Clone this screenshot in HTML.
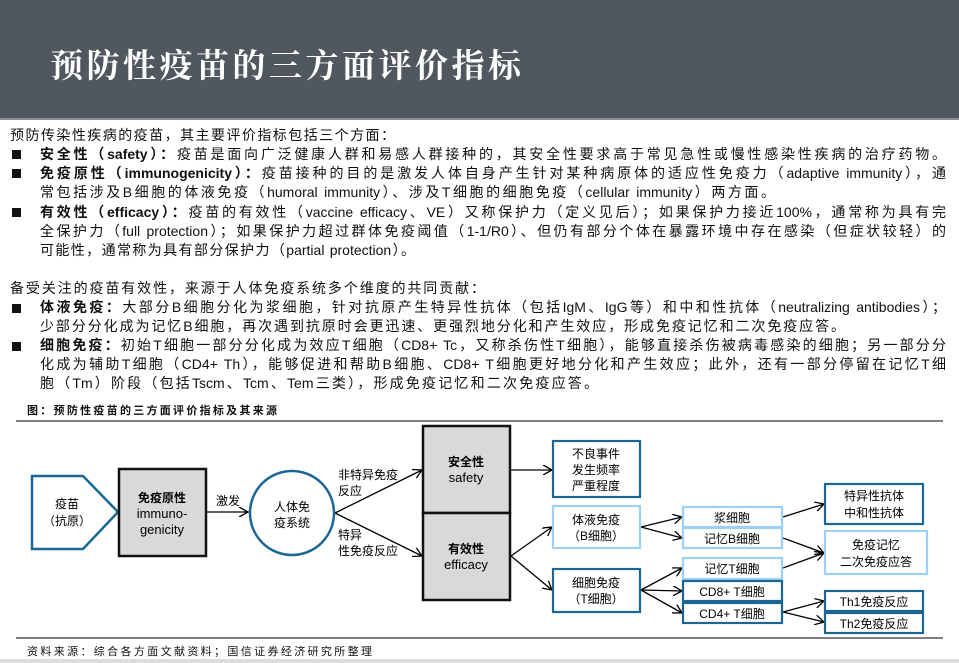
<!DOCTYPE html>
<html><head><meta charset="utf-8"><style>
body{margin:0;width:959px;height:663px;overflow:hidden;background:#fff;font-family:"Liberation Sans","Noto Sans CJK SC",sans-serif;color:#111;position:relative}
.hdr{position:absolute;left:0;top:0;width:959px;height:118px;background:#50575e;border-bottom:2px solid #8a9096}
.hdr div{position:absolute;left:50px;top:40px;font-size:33px;color:#fff;font-family:"Noto Serif CJK SC","Noto Sans CJK SC",serif;letter-spacing:3.5px;font-weight:bold}
.l{position:absolute;font-size:14px;line-height:19px;white-space:nowrap}
.j{text-align:justify;text-align-last:justify;white-space:normal;height:19px;overflow:hidden}
.sq{position:absolute;left:12px;width:9px;height:9px;background:#111}
b{font-weight:bold}
</style></head><body>
<div class="hdr"><div>预防性疫苗的三方面评价指标</div></div>
<div class="l j" style="left:10px;top:126px;width:385px">预防传染性疾病的疫苗，其主要评价指标包括三个方面：</div>
<div class="sq" style="top:150px"></div>
<div class="l j" style="left:40px;top:145px;width:906px"><b>安全性（safety）：</b>疫苗是面向广泛健康人群和易感人群接种的，其安全性要求高于常见急性或慢性感染性疾病的治疗药物。</div>
<div class="sq" style="top:169px"></div>
<div class="l j" style="left:40px;top:164px;width:906px"><b>免疫原性（immunogenicity）：</b>疫苗接种的目的是激发人体自身产生针对某种病原体的适应性免疫力（adaptive immunity），通</div>
<div class="l j" style="left:40px;top:183px;width:735px">常包括涉及B细胞的体液免疫（humoral immunity）、涉及T细胞的细胞免疫（cellular immunity）两方面。</div>
<div class="sq" style="top:208px"></div>
<div class="l j" style="left:40px;top:203px;width:906px"><b>有效性（efficacy）：</b>疫苗的有效性（vaccine efficacy、VE）又称保护力（定义见后）；如果保护力接近100%，通常称为具有完</div>
<div class="l j" style="left:40px;top:222px;width:906px">全保护力（full protection）；如果保护力超过群体免疫阈值（1-1/R0）、但仍有部分个体在暴露环境中存在感染（但症状较轻）的</div>
<div class="l j" style="left:40px;top:241px;width:375px">可能性，通常称为具有部分保护力（partial protection）。</div>
<div class="l j" style="left:10px;top:279px;width:475px">备受关注的疫苗有效性，来源于人体免疫系统多个维度的共同贡献：</div>
<div class="sq" style="top:304px"></div>
<div class="l j" style="left:40px;top:298px;width:906px"><b>体液免疫：</b>大部分B细胞分化为浆细胞，针对抗原产生特异性抗体（包括IgM、IgG等）和中和性抗体（neutralizing antibodies）；</div>
<div class="l j" style="left:40px;top:317px;width:805px">少部分分化成为记忆B细胞，再次遇到抗原时会更迅速、更强烈地分化和产生效应，形成免疫记忆和二次免疫应答。</div>
<div class="sq" style="top:342px"></div>
<div class="l j" style="left:40px;top:336px;width:906px"><b>细胞免疫：</b>初始T细胞一部分分化成为效应T细胞（CD8+ Tc，又称杀伤性T细胞），能够直接杀伤被病毒感染的细胞；另一部分分</div>
<div class="l j" style="left:40px;top:355px;width:906px">化成为辅助T细胞（CD4+ Th），能够促进和帮助B细胞、CD8+ T细胞更好地分化和产生效应；此外，还有一部分停留在记忆T细</div>
<div class="l j" style="left:40px;top:374px;width:558px">胞（Tm）阶段（包括Tscm、Tcm、Tem三类），形成免疫记忆和二次免疫应答。</div>
<div class="l j" style="left:27px;top:402px;font-size:11px;font-weight:bold;width:250px">图：预防性疫苗的三方面评价指标及其来源</div>
<div class="l j" style="left:27px;top:643px;font-size:11px;width:345px">资料来源：综合各方面文献资料；国信证券经济研究所整理</div>
<div style="position:absolute;left:0;top:659px;width:959px;height:4px;background:#ddd"></div>
<svg width="959" height="663" style="position:absolute;left:0;top:0" font-family="Liberation Sans,Noto Sans CJK SC,sans-serif" font-size="12" text-anchor="middle">
<defs><marker id="a" markerWidth="10" markerHeight="10" refX="9" refY="5" orient="auto" markerUnits="userSpaceOnUse"><path d="M0,0 L9,5 L0,10" fill="none" stroke="#000" stroke-width="1.3"/></marker></defs>
<line x1="16" y1="421" x2="943" y2="421" stroke="#333" stroke-width="1.2"/>
<line x1="16" y1="638" x2="943" y2="638" stroke="#333" stroke-width="1.2"/>
<g stroke="#000" stroke-width="1.3" marker-end="url(#a)">
<line x1="206" y1="512" x2="248" y2="512"/>
<line x1="335" y1="513" x2="422" y2="470"/>
<line x1="335" y1="513" x2="422" y2="556"/>
<line x1="511" y1="470" x2="552" y2="470"/>
<line x1="511" y1="556" x2="552" y2="527"/>
<line x1="511" y1="556" x2="552" y2="590"/>
<line x1="641" y1="527" x2="682" y2="517"/>
<line x1="641" y1="527" x2="682" y2="538"/>
<line x1="641" y1="590" x2="682" y2="568"/>
<line x1="641" y1="590" x2="682" y2="591"/>
<line x1="641" y1="590" x2="682" y2="613"/>
<line x1="783" y1="517" x2="824" y2="504"/>
<line x1="783" y1="538" x2="824" y2="553"/>
<line x1="783" y1="568" x2="824" y2="553"/>
<line x1="783" y1="612" x2="824" y2="601"/>
<line x1="783" y1="612" x2="824" y2="622"/>
</g>
<polygon points="32,476 83,476 118,512 83,549 32,549" fill="#fff" stroke="#1a6796" stroke-width="2.5"/>
<text x="67" y="508">疫苗</text><text x="67" y="525">（抗原）</text>
<rect x="119" y="469" width="87" height="87" fill="#d9d9d9" stroke="#111" stroke-width="2.5"/>
<text x="162" y="502" font-weight="bold">免疫原性</text>
<text x="162" y="518" font-size="13">immuno-</text><text x="162" y="534" font-size="13">genicity</text>
<text x="228" y="505">激发</text>
<circle cx="292" cy="513" r="42" fill="#fff" stroke="#1a6796" stroke-width="2.5"/>
<text x="292" y="511">人体免</text><text x="292" y="527">疫系统</text>
<g text-anchor="start"><text x="338" y="479">非特异免疫</text><text x="338" y="495">反应</text>
<text x="338" y="539">特异</text><text x="338" y="555">性免疫反应</text></g>
<rect x="423" y="426" width="87" height="87" fill="#d9d9d9" stroke="#111" stroke-width="2.5"/>
<rect x="423" y="513" width="87" height="87" fill="#d9d9d9" stroke="#111" stroke-width="2.5"/>
<text x="466" y="466" font-weight="bold">安全性</text><text x="466" y="482" font-size="13">safety</text>
<text x="466" y="553" font-weight="bold">有效性</text><text x="466" y="569" font-size="13">efficacy</text>
<g fill="#fff" stroke-width="2.2">
<rect x="553" y="441" width="87" height="56" stroke="#1a6796"/>
<rect x="553" y="506" width="87" height="42" stroke="#9dd0f5"/>
<rect x="553" y="569" width="87" height="43" stroke="#1a6796"/>
<rect x="683" y="507" width="99" height="20" stroke="#9dd0f5"/>
<rect x="683" y="528" width="99" height="20" stroke="#9dd0f5"/>
<rect x="683" y="558" width="99" height="21" stroke="#9dd0f5"/>
<rect x="683" y="581" width="99" height="20" stroke="#1a6796"/>
<rect x="683" y="603" width="99" height="20" stroke="#1a6796"/>
<rect x="825" y="484" width="98" height="40" stroke="#1a6796"/>
<rect x="825" y="531" width="102" height="43" stroke="#9dd0f5"/>
<rect x="825" y="591" width="98" height="20" stroke="#1a6796"/>
<rect x="825" y="613" width="98" height="20" stroke="#1a6796"/>
</g>
<text x="596" y="458">不良事件</text><text x="596" y="474">发生频率</text><text x="596" y="490">严重程度</text>
<text x="596" y="524">体液免疫</text><text x="596" y="540">（B细胞）</text>
<text x="596" y="587">细胞免疫</text><text x="596" y="603">（T细胞）</text>
<text x="732" y="522">浆细胞</text><text x="732" y="543">记忆B细胞</text><text x="732" y="573">记忆T细胞</text>
<text x="732" y="596">CD8+ T细胞</text><text x="732" y="618">CD4+ T细胞</text>
<text x="874" y="500">特异性抗体</text><text x="874" y="517">中和性抗体</text>
<text x="876" y="549">免疫记忆</text><text x="876" y="566">二次免疫应答</text>
<text x="874" y="606">Th1免疫反应</text><text x="874" y="628">Th2免疫反应</text>
</svg>
</body></html>
